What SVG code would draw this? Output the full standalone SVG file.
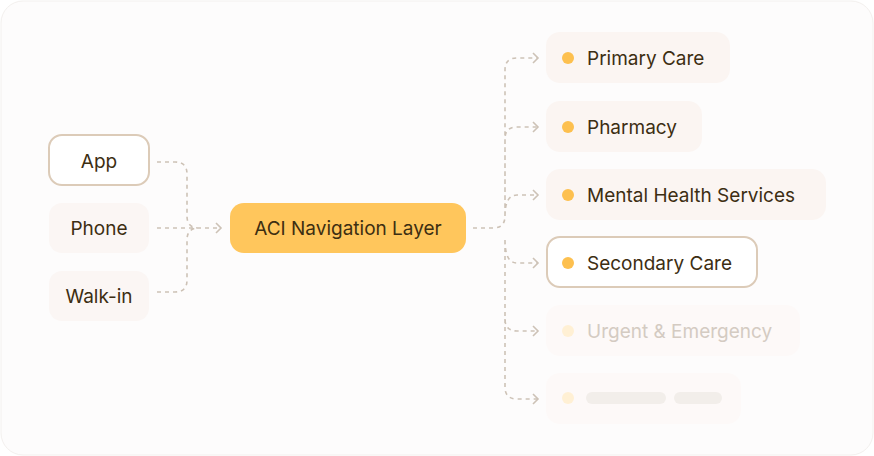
<svg xmlns="http://www.w3.org/2000/svg" width="874" height="456" viewBox="0 0 874 456">
<style>
text{font-family:Inter,"Noto Sans",sans-serif;font-size:19px;fill:#3d2e12}
.src{fill:#fbf6f4}
.out{fill:#fff;stroke:#dccbb8;stroke-width:2}
.dest{fill:#fbf5f2}
.c{fill:none;stroke:#cdc2b6;stroke-width:1.6;stroke-dasharray:4 4}
.ah{fill:none;stroke:#cdc2b6;stroke-width:1.6}
.dot{fill:#fdc04f}
</style>
<rect x="1" y="1" width="872" height="454" rx="22" fill="#fdfcfc" stroke="#f3f0ee"/>
<g id="connectors">
<path class="c" d="M157 162 H175 Q187 162 187 174 V216 Q187 228 199 228 M157 228 H220 M157 292 H175 Q187 292 187 280 V240 Q187 228 199 228"/>
<path class="ah" d="M216 223 L221 228 L216 233"/>
<path class="c" d="M473 228 H493 Q505 228 505 216 V70 Q505 58 517 58 H537 M505 216 V139 Q505 127 517 127 H537 M505 216 Q505 195 517 195 H537 M505 240 Q505 263 517 263 H537 M505 240 V319 Q505 331 517 331 H537 M505 319 V387 Q505 399 517 399 H537"/>
<g class="ah"><path d="M533 53 L538 58 L533 63"/><path d="M533 122 L538 127 L533 132"/><path d="M533 190 L538 195 L533 200"/><path d="M533 258 L538 263 L533 268"/><path d="M533 326 L538 331 L533 336"/><path d="M533 394 L538 399 L533 404"/></g>
</g>
<g id="app"><rect class="out" x="49" y="135" width="100" height="50" rx="13"/><text x="99" y="168" text-anchor="middle">App</text></g>
<g id="phone"><rect class="src" x="49" y="203" width="100" height="50" rx="13"/><text x="99" y="235" text-anchor="middle">Phone</text></g>
<g id="walkin"><rect class="src" x="49" y="271" width="100" height="50" rx="13"/><text x="99" y="303" text-anchor="middle">Walk-in</text></g>
<g id="aci"><rect x="230" y="203" width="236" height="50" rx="14" fill="#ffc65c"/><text x="348" y="235" text-anchor="middle">ACI Navigation Layer</text></g>
<g id="primary"><rect class="dest" x="546" y="32" width="184" height="51" rx="14"/><circle class="dot" cx="568" cy="58" r="6"/><text x="587" y="65">Primary Care</text></g>
<g id="pharmacy"><rect class="dest" x="546" y="101" width="156" height="51" rx="14"/><circle class="dot" cx="568" cy="127" r="6"/><text x="587" y="134">Pharmacy</text></g>
<g id="mental"><rect class="dest" x="546" y="169" width="280" height="51" rx="14"/><circle class="dot" cx="568" cy="195" r="6"/><text x="587" y="202">Mental Health Services</text></g>
<g id="secondary"><rect class="out" x="547" y="237" width="210" height="50" rx="13"/><circle class="dot" cx="568" cy="263" r="6"/><text x="587" y="270">Secondary Care</text></g>
<g id="urgent"><rect x="546" y="305" width="254" height="51" rx="14" fill="#fdf9f8"/><circle cx="568" cy="331" r="6" fill="#fff0d4"/><text x="587" y="338" style="fill:#d4cbc2">Urgent &amp; Emergency</text></g>
<g id="placeholder"><rect x="546" y="373" width="195" height="51" rx="14" fill="#fdf9f8"/><circle cx="568" cy="398" r="6" fill="#fff0d4"/><rect x="586" y="392" width="80" height="12" rx="6" fill="#f2eeea"/><rect x="674" y="392" width="48" height="12" rx="6" fill="#f2eeea"/></g>
</svg>
